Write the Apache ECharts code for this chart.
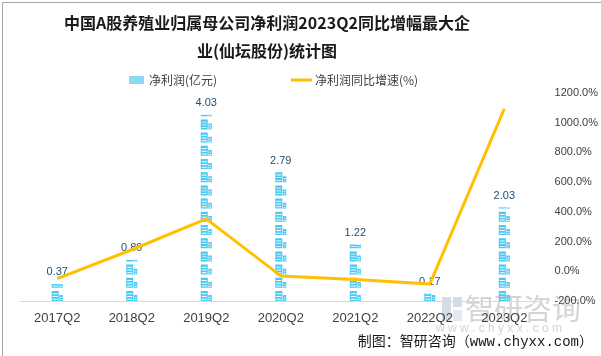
<!DOCTYPE html>
<html>
<head>
<meta charset="utf-8">
<script src="https://cdn.jsdelivr.net/npm/echarts@6/dist/echarts.min.js"></script>
<style>
html,body{margin:0;padding:0;background:#fff;}
#c{width:601px;height:356px;}
</style>
</head>
<body>
<div id="c"></div>
<script>
var categories = ['2017Q2','2018Q2','2019Q2','2020Q2','2021Q2','2022Q2','2023Q2'];
var netProfit = [0.37, 0.89, 4.03, 2.79, 1.22, 0.17, 2.03];
var growthRate = [-50, 145, 353, -31, -56, -86, 1094];
var rightTicks = {min: -200, max: 1200, interval: 200};
var leftRange = {min: 0, max: 4.5};

var building = 'path://M0,0H7V11H0Z M1,2.5V3.5H6V2.5Z M1,5.5V6.5H6V5.5Z M1,8.5V9.5H6V8.5Z M7.6,4.5H11V11H7.6Z M8.5,6.5V7.5H10.2V6.5Z M8.5,9V10H10.2V9Z';

var chart = echarts.init(document.getElementById('c'), null, {renderer: 'canvas'});
chart.setOption({
  animation: false,
  backgroundColor: '#fff',
  title: {
    text: '中国A股养殖业归属母公司净利润2023Q2同比增幅最大企\n业(仙坛股份)统计图',
    left: 262,
    top: 4,
    textAlign: 'center',
    textStyle: {
      fontFamily: 'Noto Sans CJK SC',
      fontSize: 16,
      fontWeight: 'bold',
      color: '#1a1a1a',
      lineHeight: 28
    }
  },
  legend: [
    {
      left: 124,
      top: 69,
      itemWidth: 15,
      itemHeight: 8,
      itemGap: 7,
      textStyle: {fontFamily: 'Noto Sans CJK SC', fontSize: 12, color: '#404040'},
      data: [{name: '净利润(亿元)', icon: 'rect', itemStyle: {color: '#8fd8f5'}}]
    },
    {
      left: 286,
      top: 69,
      itemWidth: 21,
      itemHeight: 3,
      textStyle: {fontFamily: 'Noto Sans CJK SC', fontSize: 12, color: '#404040', padding: [0, 0, 0, -2]},
      data: [{name: '净利润同比增速(%)', icon: 'rect', itemStyle: {color: '#FFC000'}}]
    }
  ],
  grid: {left: 20, right: 57, top: 93, bottom: 55, containLabel: false},
  xAxis: {
    type: 'category',
    data: categories,
    axisLine: {lineStyle: {color: '#d9d9d9'}},
    axisTick: {show: false},
    axisLabel: {color: '#404040', fontSize: 13, fontFamily: 'Liberation Sans', margin: 11}
  },
  yAxis: [
    {
      type: 'value',
      min: leftRange.min,
      max: leftRange.max,
      show: false,
      splitLine: {show: false}
    },
    {
      type: 'value',
      position: 'right',
      min: rightTicks.min,
      max: rightTicks.max,
      interval: rightTicks.interval,
      axisLine: {show: false},
      axisTick: {show: false},
      splitLine: {show: false},
      axisLabel: {
        color: '#404040',
        fontSize: 11,
        fontFamily: 'Liberation Sans',
        margin: 13,
        formatter: function (v) { return v.toFixed(1) + '%'; }
      }
    }
  ],
  series: [
    {
      name: '净利润(亿元)',
      type: 'pictorialBar',
      yAxisIndex: 0,
      data: netProfit,
      symbol: building,
      symbolRepeat: true,
      symbolSize: [11, 10],
      symbolMargin: 1.6,
      symbolClip: true,
      symbolPosition: 'start',
      barWidth: 11,
      itemStyle: {color: '#48c8f2'},
      z: 2
    },
    {
      name: '净利润标签',
      type: 'bar',
      yAxisIndex: 0,
      data: netProfit,
      barWidth: 11,
      barGap: '-100%',
      itemStyle: {color: 'rgba(0,0,0,0)'},
      label: {
        show: true,
        position: 'top',
        distance: 6,
        color: '#1f4e79',
        fontSize: 11,
        fontFamily: 'Liberation Sans'
      },
      z: 3
    },
    {
      name: '净利润同比增速(%)',
      type: 'line',
      yAxisIndex: 1,
      data: growthRate,
      showSymbol: false,
      symbol: 'none',
      lineStyle: {color: '#FFC000', width: 3},
      itemStyle: {color: '#FFC000'},
      z: 5
    }
  ],
  graphic: [
    {
      type: 'rect',
      left: 0, top: 0,
      shape: {x: 0.5, y: 0.5, width: 599, height: 354},
      style: {fill: 'none', stroke: '#a6a6a6', lineWidth: 1},
      silent: true
    },
    {
      type: 'group',
      silent: true,
      z: 10,
      children: [
        {type: 'rect', shape: {x: 442, y: 297, width: 9, height: 24}, style: {fill: 'rgba(150,170,195,0.4)'}},
        {type: 'rect', shape: {x: 453, y: 297, width: 9, height: 10}, style: {fill: 'rgba(150,170,195,0.4)'}},
        {type: 'rect', shape: {x: 453, y: 310, width: 9, height: 11}, style: {fill: 'rgba(190,200,215,0.4)'}},
        {type: 'text', style: {text: '智研咨询', x: 465, y: 309, fontSize: 29, fontFamily: 'Noto Sans CJK SC', fill: 'rgba(170,170,170,0.5)', textVerticalAlign: 'middle'}},
        {type: 'text', style: {text: 'w w w . c h y x x . c o m', x: 436, y: 329, fontSize: 12, fontFamily: 'Liberation Sans', fill: 'rgba(170,170,170,0.5)', textVerticalAlign: 'middle'}}
      ]
    },
    {
      type: 'text',
      z: 11,
      silent: true,
      style: {
        text: '制图：智研咨询（www.chyxx.com）',
        x: 593, y: 342,
        textAlign: 'right',
        textVerticalAlign: 'middle',
        fontSize: 14,
        fontFamily: 'Liberation Mono, Noto Sans CJK SC',
        fill: '#1a1a1a'
      }
    }
  ]
});
</script>
</body>
</html>
